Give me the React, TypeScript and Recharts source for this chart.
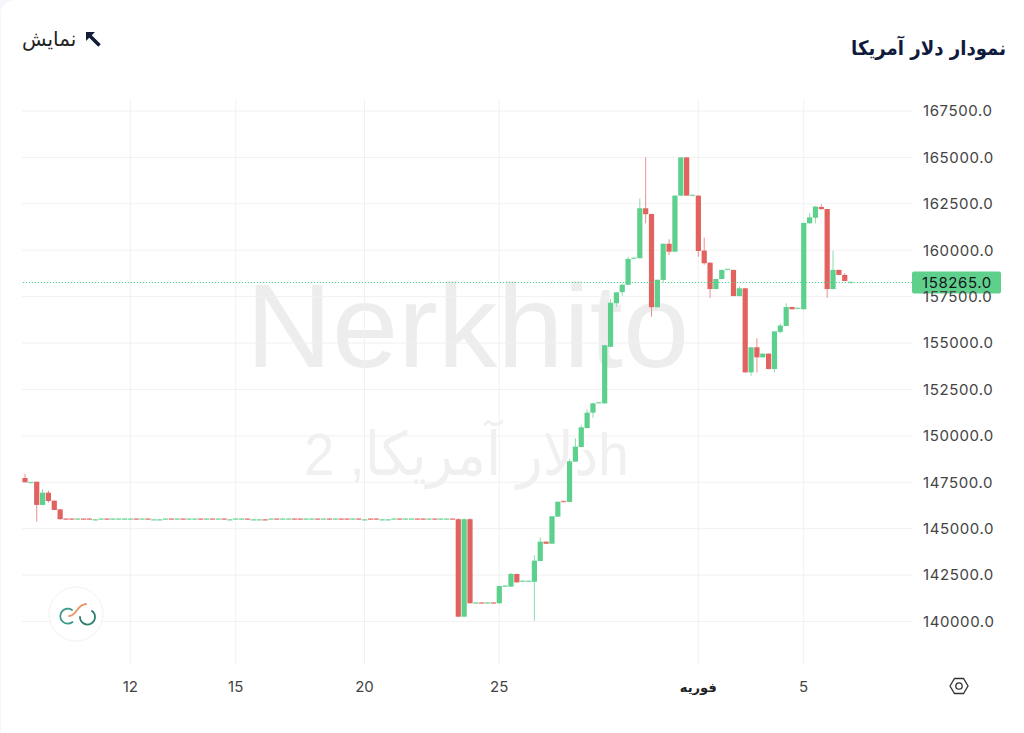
import { Bar, CartesianGrid, ComposedChart, ReferenceLine, XAxis, YAxis } from "recharts";

const candleOpen = [
  147730, 147480, 147530, 146280, 146940, 146510, 146040,
  145540, 145540, 145500, 145540, 145540, 145460, 145500, 145540, 145500, 145500, 145500, 145500, 145540, 145500,
  145540, 145460, 145460, 145500, 145540, 145500, 145540, 145500, 145500, 145540, 145500, 145540, 145500, 145540,
  145460, 145500, 145500, 145540, 145460, 145460, 145500, 145500, 145540, 145500, 145500, 145540, 145540, 145500,
  145500, 145540, 145500, 145540, 145500, 145540, 145540, 145500, 145540, 145460, 145540, 145540, 145460, 145460,
  145500, 145540, 145500, 145500, 145540, 145540, 145500, 145540, 145500, 145500, 145540,
  145510, 140260, 145510, 140980, 141020, 140980, 141020, 140980, 141890, 141880, 142560, 142150, 142150, 142140,
  143260, 144300, 144190, 145650, 146490, 146440, 148610, 149400, 150420, 151250, 151770, 151750, 154800, 157140,
  157740, 158140, 159550, 159570, 162260, 161950, 156930, 158400, 160350, 159920, 162940, 165000, 162940, 162940,
  159980, 159330, 157910, 158450, 158950, 158940, 157530, 157950, 153420, 154770, 154230, 154430, 153600, 155600,
  155920, 156940, 156850, 156820, 161450, 161750, 162330, 162220, 157910, 158940, 158670, 158240,
];

const candleClose = [
  147500, 147510, 146280, 146940, 146490, 146010, 145510,
  145500, 145500, 145540, 145500, 145500, 145500, 145540, 145500, 145540, 145540, 145540, 145540, 145500, 145540,
  145500, 145500, 145500, 145540, 145500, 145540, 145500, 145540, 145540, 145500, 145540, 145500, 145540, 145500,
  145500, 145540, 145540, 145500, 145500, 145500, 145460, 145540, 145500, 145540, 145540, 145500, 145500, 145540,
  145540, 145500, 145540, 145500, 145540, 145500, 145500, 145540, 145500, 145500, 145500, 145500, 145500, 145500,
  145540, 145500, 145540, 145540, 145500, 145500, 145540, 145500, 145540, 145540, 145500,
  140260, 145510, 140980, 141020, 140980, 141020, 140980, 141910, 141930, 142560, 142110, 142190, 142190, 143280,
  144300, 144190, 145670, 146450, 146420, 148630, 149420, 150460, 151250, 151750, 151810, 154880, 157170, 157730,
  158140, 159530, 159590, 162260, 161940, 156930, 158410, 160350, 159920, 162940, 165000, 162940, 162980, 159960,
  159300, 157910, 158450, 158940, 158990, 157530, 157950, 153420, 154770, 154230, 154430, 153600, 155630, 155940,
  156940, 156820, 156890, 161470, 161770, 162350, 162210, 157910, 158940, 158670, 158340, 158290,
];

const candleHigh = [
  147950, 147520, 147540, 147140, 147050, 146520, 146050,
  145540, 145540, 145540, 145540, 145540, 145500, 145540, 145540, 145540, 145540, 145540, 145540, 145540, 145540,
  145540, 145500, 145500, 145540, 145540, 145540, 145540, 145540, 145540, 145540, 145540, 145540, 145540, 145540,
  145500, 145540, 145540, 145540, 145500, 145500, 145500, 145540, 145540, 145540, 145540, 145540, 145540, 145540,
  145540, 145540, 145540, 145540, 145540, 145540, 145540, 145540, 145540, 145500, 145540, 145540, 145500, 145500,
  145540, 145540, 145540, 145540, 145540, 145540, 145540, 145540, 145540, 145540, 145540,
  145560, 145560, 145560, 141020, 141020, 141020, 141020, 141930, 141930, 142630, 142570, 142190, 142190, 143580,
  144540, 144310, 145680, 146460, 146490, 148740, 149870, 150590, 151430, 151790, 151810, 154890, 157360, 157750,
  158200, 159650, 159590, 162780, 165000, 161960, 158420, 160360, 160590, 162950, 165010, 165010, 162980, 162950,
  160680, 159340, 158460, 158950, 158990, 158950, 158070, 157960, 154780, 155260, 154440, 154440, 155640, 156060,
  157140, 156950, 156890, 161480, 161990, 162380, 162480, 162230, 159980, 158950, 158760, 158290,
];

const candleLow = [
  147490, 147470, 145380, 146270, 146400, 146000, 145500,
  145500, 145500, 145500, 145500, 145500, 145460, 145500, 145500, 145500, 145500, 145500, 145500, 145500, 145500,
  145500, 145460, 145460, 145500, 145500, 145500, 145500, 145500, 145500, 145500, 145500, 145500, 145500, 145500,
  145460, 145500, 145500, 145500, 145460, 145460, 145460, 145500, 145500, 145500, 145500, 145500, 145500, 145500,
  145500, 145500, 145500, 145500, 145500, 145500, 145500, 145500, 145500, 145460, 145500, 145500, 145460, 145460,
  145500, 145500, 145500, 145500, 145500, 145500, 145500, 145500, 145500, 145500, 145500,
  140260, 140260, 140980, 140980, 140980, 140980, 140980, 140970, 141890, 141870, 142100, 142150, 142150, 140040,
  143250, 144180, 144180, 145640, 146420, 146430, 148600, 149390, 150410, 150980, 151770, 151740, 154770, 156960,
  157550, 158130, 159550, 159560, 161450, 156420, 156920, 158250, 159740, 159910, 162930, 162930, 162940, 159650,
  159220, 157440, 157900, 158440, 158950, 157520, 157520, 153410, 153230, 153420, 154220, 153590, 153420, 155510,
  155910, 156810, 156850, 156810, 161440, 161450, 162200, 157440, 157900, 158660, 158330, 158240,
];

const lastPrice = 158265;
const priceTicks = [140000, 142500, 145000, 147500, 150000, 152500, 155000, 157500, 160000, 162500, 165000, 167500];
const timeTickSlots = [18, 36, 58, 81, 115, 133];
const timeTickLabels = ["12", "15", "20", "25", "فوریه", "5"];
const slotCount = 152;

const RED = "#e2625f";
const GREEN = "#5dd08e";
const FONT = "Inter, 'DejaVu Sans', sans-serif";

const rows = Array.from({ length: slotCount }, (_, i) => ({
  slot: i,
  open: candleOpen[i],
  close: candleClose[i],
  range: candleOpen[i] === undefined ? null : [candleLow[i], candleHigh[i]],
  high: candleHigh[i],
  low: candleLow[i],
}));

function Candle(props: any) {
  const { x, y, width, height, payload } = props;
  if (!payload || payload.open === undefined || !height) return null;
  const { open, close, high, low } = payload;
  const color = close >= open ? GREEN : RED;
  const perUnit = height / (high - low);
  const top = y + (high - Math.max(open, close)) * perUnit;
  const bodyH = Math.abs(open - close) * perUnit;
  const cx = x + width / 2;
  // flat candles still show as a thin pale dash
  const flat = bodyH < 1.5;
  return (
    <g>
      <rect x={cx - 0.5} y={y} width={1} height={height} fill={color} fillOpacity={0.7} />
      <rect x={cx - 2.6} y={flat ? top - 0.3 : top} width={5.2} height={flat ? 1.5 : bodyH} fill={color} fillOpacity={flat ? 0.75 : 1} />
    </g>
  );
}

function PriceTag(props: any) {
  const { viewBox } = props;
  const right = viewBox.x + viewBox.width;
  return (
    <g>
      <rect x={right} y={viewBox.y - 11} width={89} height={22} rx={2} fill="#5fcf8c" />
      <text x={right + 10} y={viewBox.y + 5.5} fontFamily={FONT} fontSize={15} letterSpacing={0.6} fill="#14161c">
        {lastPrice.toFixed(1)}
      </text>
    </g>
  );
}

function TimeTick(props: any) {
  const { x, y, payload } = props;
  const label = timeTickLabels[timeTickSlots.indexOf(payload.value)];
  const isMonth = label === "فوریه";
  return (
    <text x={x} y={y + 19} textAnchor="middle" fontFamily={FONT} fontSize={isMonth ? 13 : 15} fontWeight={isMonth ? 700 : 400} fill={isMonth ? "#222" : "#444"}>
      {label}
    </text>
  );
}

function Logo() {
  return (
    <svg width={56} height={56} style={{ position: "absolute", left: 47.5, top: 585.5 }}>
      <circle cx={28} cy={28} r={27} fill="#fff" stroke="#f3f3f3" />
      <path d="M24 24 A7.5 7.5 0 1 0 24.5 36" fill="none" stroke="#3f9a8a" strokeWidth={1.8} strokeLinecap="round" />
      <path d="M32 31 A7.5 7.5 0 1 0 44 25" fill="none" stroke="#2f7f70" strokeWidth={1.8} strokeLinecap="round" />
      <path d="M21 30 C29 30 28 19 38 18" fill="none" stroke="#e9966a" strokeWidth={1.8} strokeLinecap="round" />
    </svg>
  );
}

export default function App() {
  return (
    <div style={{ position: "absolute", left: 0, top: 0, width: 1024, height: 733, background: "#f6f7fa", overflow: "hidden" }}>
      <div style={{ position: "absolute", left: 1, top: 0, width: 1023, height: 733, background: "#fff", borderTopLeftRadius: 14 }} />

      {/* watermark sits under the chart */}
      <div style={{ position: "absolute", left: 246, top: 266, fontFamily: "'Liberation Sans'", fontSize: 119, lineHeight: "120px", color: "#ededed", whiteSpace: "nowrap" }}>
        Nerkhito
      </div>
      <div style={{ position: "absolute", left: 304, top: 420, fontFamily: "'Liberation Sans', 'DejaVu Sans'", fontSize: 60, lineHeight: "70px", color: "#f0f0f0", whiteSpace: "nowrap", direction: "ltr", transform: "scaleX(0.91)", transformOrigin: "left" }}>
        دلار آمریکا, 2h
      </div>

      <div style={{ position: "absolute", left: 0, top: 0 }}>
        <ComposedChart
          width={1024}
          height={733}
          data={rows}
          barCategoryGap={0}
          margin={{ top: 100, right: 0, bottom: 0, left: 22 }}
        >
          <CartesianGrid stroke="#f1f1f1" syncWithTicks />
          <XAxis
            dataKey="slot"
            height={68}
            ticks={timeTickSlots}
            interval={0}
            axisLine={false}
            tickLine={false}
            tick={<TimeTick />}
          />
          <YAxis
            orientation="right"
            width={112}
            domain={[137657, 168092]}
            ticks={priceTicks}
            interval={0}
            allowDataOverflow
            axisLine={false}
            tickLine={false}
            tickMargin={5}
            tick={{ fontSize: 15, fill: "#444", fontFamily: FONT, textAnchor: "start", letterSpacing: 0.6 }}
            tickFormatter={(v: number) => v.toFixed(1)}
          />
          <Bar dataKey="range" shape={<Candle />} isAnimationActive={false} />
          <ReferenceLine y={lastPrice} stroke="#4fd488" strokeWidth={1.1} strokeDasharray="1.2 1.8" label={<PriceTag />} />
        </ComposedChart>
      </div>

      <Logo />

      <div dir="rtl" style={{ position: "absolute", right: 18, top: 36, fontFamily: "'DejaVu Sans'", fontSize: 20, fontWeight: 700, color: "#0f1b3d", whiteSpace: "nowrap", transform: "scaleX(0.906)", transformOrigin: "right" }}>
        نمودار دلار آمریکا
      </div>
      <div dir="rtl" style={{ position: "absolute", left: 22, top: 27, fontFamily: "'DejaVu Sans'", fontSize: 20, color: "#222", whiteSpace: "nowrap" }}>
        نمایش
      </div>
      <svg width={18} height={18} style={{ position: "absolute", left: 84, top: 30 }}>
        <path d="M4 4 L15.5 15.5" stroke="#131c36" strokeWidth={3.6} />
        <path d="M2 2 H11 L2 11 Z" fill="#131c36" />
      </svg>
      <svg width={22} height={20} style={{ position: "absolute", left: 948, top: 676 }}>
        <path d="M2 10 L6.5 2.5 H15.5 L20 10 L15.5 17.5 H6.5 Z" fill="none" stroke="#333" strokeWidth={1.3} />
        <circle cx={11} cy={10} r={3.2} fill="none" stroke="#333" strokeWidth={1.3} />
      </svg>
    </div>
  );
}
